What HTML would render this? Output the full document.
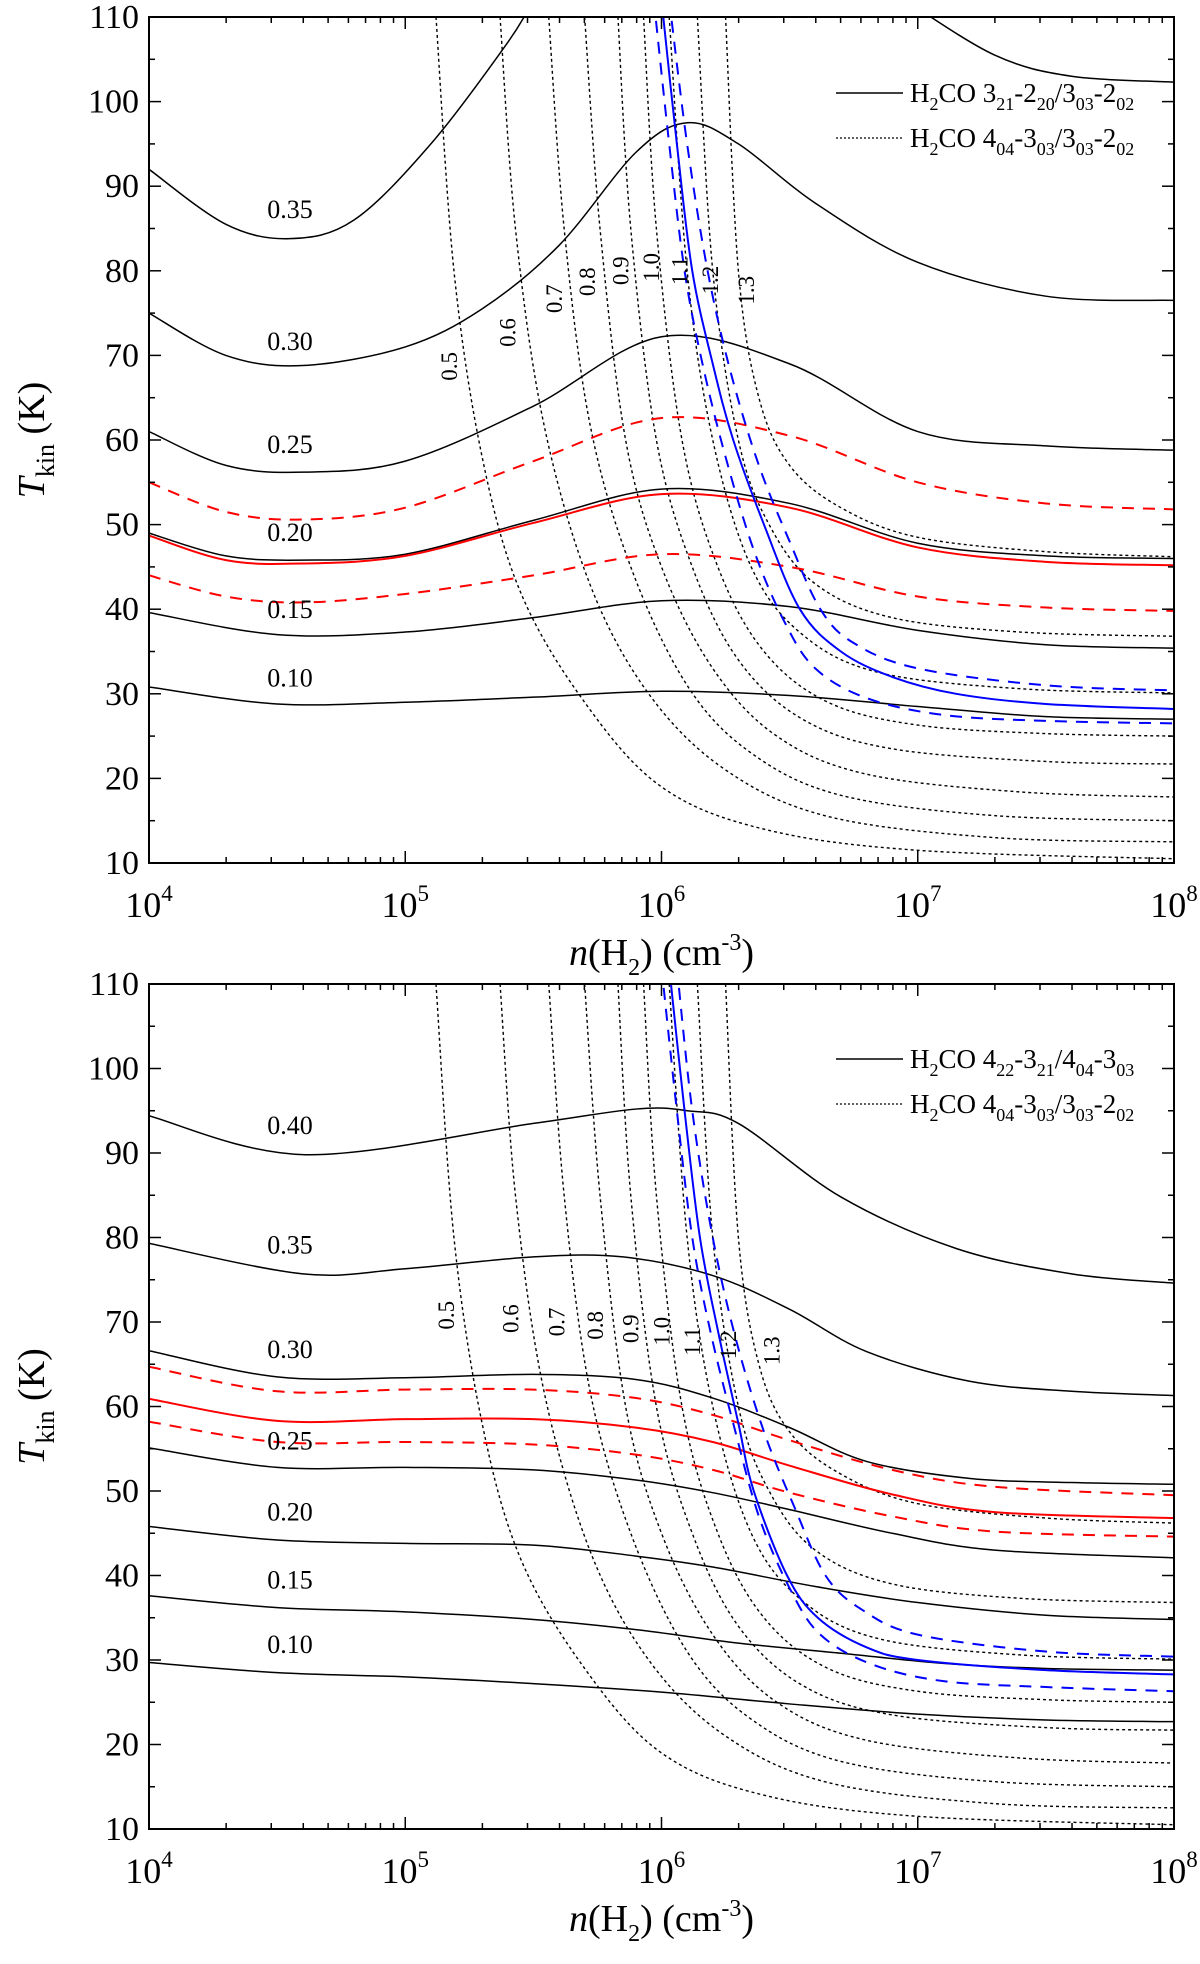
<!DOCTYPE html>
<html><head><meta charset="utf-8"><style>
html,body{margin:0;padding:0;background:#fff;}
svg{display:block;font-family:"Liberation Serif",serif;}
</style></head><body>
<svg id="chart" width="1200" height="1964" viewBox="0 0 1200 1964" xmlns="http://www.w3.org/2000/svg"></svg>
<script>
// ---- shared data: H2CO 404-303/303-202 ratio contours (dotted) ----
const dotLabels = ["0.5","0.6","0.7","0.8","0.9","1.0","1.1","1.2","1.3"];
const dotX = [
 [5.12,5.19,5.30,5.45,5.70,6.0,6.4,7.0,8],
 [5.37,5.43,5.54,5.72,5.95,6.25,6.65,7.3,8],
 [5.56,5.62,5.72,5.88,6.1,6.35,6.7,7.3,8],
 [5.70,5.76,5.86,6.0,6.2,6.45,6.8,7.4,8],
 [5.83,5.88,5.98,6.12,6.30,6.55,6.9,7.5,8],
 [5.93,5.98,6.08,6.22,6.40,6.65,7.0,7.5,8],
 [6.03,6.10,6.20,6.35,6.55,6.85,7.4,8],
 [6.14,6.20,6.30,6.42,6.6,6.9,7.4,8],
 [6.25,6.30,6.38,6.50,6.7,7.0,7.5,8]
];
const dotT = [
 [110,80,58,42,29,19,14,11.5,10.5],
 [110,85,62,43,30,21,15.5,13,12.5],
 [110,85,62,45,31,23,18,15.6,15],
 [110,85,60,45,33,25,20.5,18.4,17.8],
 [110,85,60,45,34,27,23.5,22,21.7],
 [110,85,60,45,35,29,26.3,25.3,25],
 [110,80,60,45,37,32.5,30.6,30.1],
 [110,80,60,50,43,39,37.3,36.8],
 [110,80,65,57,52,48.5,46.8,46.2]
];
const dotLabelTopX = [5.17,5.40,5.58,5.71,5.84,5.96,6.07,6.19,6.33];
const dotLabelTopT = [68.7,72.7,76.7,78.7,80,80.4,80,78.9,77.7];
const dotLabelBotX = [5.16,5.41,5.59,5.74,5.88,6.0,6.12,6.26,6.43];
const dotLabelBotT = [70.8,70.4,70,69.6,69.2,68.9,67.7,67.3,66.6];

// ---- top panel: H2CO 321-220/303-202 ----
const topLabels = ["0.10","0.15","0.20","0.25","0.30","0.35"];
const topX = [
 [4,4.5,5,5.5,6,6.5,7,7.5,8],
 [4,4.5,5,5.5,6,6.5,7,7.5,8],
 [4,4.3,4.6,5,5.5,6,6.5,7,7.5,8],
 [4,4.3,4.6,5,5.5,6,6.5,7,7.5,8],
 [4,4.3,4.6,5,5.3,5.6,5.9,6.1,6.3,6.6,7,7.5,8],
 [4,4.3,4.55,4.8,5.1,5.4,5.5]
];
const topT = [
 [30.8,28.8,29,29.6,30.3,29.8,28.5,27.3,27],
 [39.6,37,37.3,39,41,40.3,37.5,35.8,35.4],
 [49,46.3,45.8,46.5,50.5,54.2,52.5,47.8,46.3,46],
 [61,57,56.2,57.5,64,72.2,69,61,59.3,58.8],
 [75,70,68.8,71,75.5,83,94,97.5,95,88,81,77,76.5],
 [92,85.5,83.8,86,95,107,112]
];
const top35bX = [6.95,7.3,7.6,8];
const top35bT = [112,105.5,103,102.3];
const topLabelX = [4.55,4.55,4.55,4.55,4.55,4.55];
const topLabelT = [31.9,40,49.1,59.5,71.7,87.3];
const topRedX = [4,4.3,4.6,5,5.5,6,6.5,7,7.5,8];
const topRedT = [48.7,45.8,45.4,46.3,50.2,53.6,52,47.3,45.6,45.2];
const topRedHiT = [55,51.5,50.6,52,57.5,62.6,60.5,55,52.5,51.8];
const topRedLoT = [44,41.5,40.8,41.8,44,46.5,45,41.5,40.2,39.8];
const topBlueX = [6.0,6.06,6.12,6.2,6.28,6.4,6.54,6.7,6.9,7.15,7.5,8];
const topBlueT = [112,95,80,69,60,50,40,35,32,30,28.8,28.2];
const topBlueHiX = [6.03,6.1,6.18,6.27,6.38,6.5,6.62,6.75,7,7.5,8];
const topBlueHiT = [112,95,80,68,57,48,40,36,33,31,30.4];
const topBlueLoX = [5.97,6.03,6.09,6.16,6.25,6.36,6.48,6.6,6.8,7.1,7.5,8];
const topBlueLoT = [112,95,80,69,58,47,38.5,33,29.5,27.5,26.8,26.5];

// ---- bottom panel: H2CO 422-321/404-303 ----
const botLabels = ["0.10","0.15","0.20","0.25","0.30","0.35","0.40"];
const botX = [
 [4,4.5,5,5.5,6,6.5,7,7.5,8],
 [4,4.5,5,5.5,5.9,6.3,6.7,7.1,7.5,8],
 [4,4.5,5,5.5,5.9,6.2,6.6,7,7.5,8],
 [4,4.5,5,5.5,5.9,6.2,6.5,6.9,7.3,8],
 [4,4.5,5,5.5,5.9,6.2,6.5,6.8,7.2,7.6,8],
 [4,4.6,5,5.5,5.85,6.2,6.5,6.8,7.2,7.6,8],
 [4,4.61,5.5,5.9,6.1,6.3,6.7,7.15,7.6,8]
];
const botT = [
 [29.7,28.5,28,27.2,26.2,24.8,23.6,22.9,22.7],
 [37.6,36.2,35.7,34.8,33.6,32,30.8,29.6,29,28.8],
 [45.8,44.2,43.8,43.6,42.3,41,38.7,36.8,35.3,34.8],
 [55.1,52.8,52.8,52.5,51.3,49.8,47.8,45,43,42.1],
 [66.6,63.5,63.4,63.8,63.2,61,57.5,53.5,51.5,51,50.8],
 [79.3,75.7,76.3,77.7,77.7,75.5,71.5,66.5,63,61.8,61.3],
 [94.4,89.8,93.5,95.2,95,93.5,84.8,78.7,75.7,74.6]
];
const botLabelX = [4.55,4.55,4.55,4.55,4.55,4.55,4.55];
const botLabelT = [31.9,39.5,47.6,56,66.8,79.2,93.3];
const botRedX = [4,4.5,5,5.5,5.9,6.2,6.5,6.9,7.3,8];
const botRedT = [60.9,58.3,58.5,58.5,57.5,55.8,53,49.6,47.5,46.8];
const botRedHiT = [64.7,61.8,62,62,61,59,56,52.5,50.5,49.5];
const botRedLoT = [58.2,55.8,55.8,55.5,54.3,52.5,49.8,47,45.2,44.6];
const botBlueX = [6.03,6.09,6.15,6.22,6.3,6.36,6.49,6.61,6.8,7.0,7.5,8];
const botBlueT = [112,95,80,69,58,50,40,35,31.5,30,28.8,28.3];
const botBlueHiX = [6.06,6.12,6.2,6.29,6.4,6.52,6.64,6.78,7.0,7.5,8];
const botBlueHiT = [112,95,80,68,57,48,40,36,33,31,30.4];
const botBlueLoX = [6.0,6.06,6.12,6.19,6.28,6.38,6.5,6.62,6.82,7.1,7.5,8];
const botBlueLoT = [112,95,80,69,58,47,38.5,33,29.5,27.5,26.8,26.3];

const yTicks = [10,20,30,40,50,60,70,80,90,100,110];
const xTickExp = [4,5,6,7,8];

const NS = "http://www.w3.org/2000/svg";
const svg = document.getElementById("chart");
function mk(tag, attrs, parent){
  const e = document.createElementNS(NS, tag);
  for (const k in attrs) e.setAttribute(k, attrs[k]);
  (parent||svg).appendChild(e);
  return e;
}
function pathD(pts){
  if (pts.length < 2) return "";
  let d = "M" + pts[0][0].toFixed(2) + "," + pts[0][1].toFixed(2);
  for (let i=0;i<pts.length-1;i++){
    const p0 = pts[i-1]||pts[i], p1=pts[i], p2=pts[i+1], p3=pts[i+2]||pts[i+1];
    const c1x = p1[0]+(p2[0]-p0[0])/6, c1y = p1[1]+(p2[1]-p0[1])/6;
    const c2x = p2[0]-(p3[0]-p1[0])/6, c2y = p2[1]-(p3[1]-p1[1])/6;
    d += " C"+c1x.toFixed(2)+","+c1y.toFixed(2)+" "+c2x.toFixed(2)+","+c2y.toFixed(2)+" "+p2[0].toFixed(2)+","+p2[1].toFixed(2);
  }
  return d;
}

function panel(id, top, bottom, cfg){
  const L = 149, R = 1174;
  const sx = v => L + (v-4)/4*(R-L);
  const sy = t => bottom - (t-10)/100*(bottom-top);
  const g = mk("g", {});
  
  
  const clipId = id+"-clip";
  const defs = mk("defs", {}, g);
  const cp = mk("clipPath", {id:clipId}, defs);
  mk("rect", {x:L, y:top, width:R-L, height:bottom-top}, cp);
  const cg = mk("g", {"clip-path":"url(#"+clipId+")"}, g);
  
  

  function curve(xs, ts, style, name){
    const pts = xs.map((x,i)=>[sx(x), sy(ts[i])]);
    const p = mk("path", Object.assign({d:pathD(pts), fill:"none"}, style), cg);
    
    
  }
  dotX.forEach((xs,i)=>curve(xs, dotT[i], {stroke:"#000","stroke-width":1.4,"stroke-dasharray":"3,3"}, "dotted-contour-"+dotLabels[i]));
  cfg.bx.forEach((xs,i)=>curve(xs, cfg.bt[i], {stroke:"#000","stroke-width":1.5}, "solid-contour-"+cfg.bl[i]));
  if (cfg.extraX) curve(cfg.extraX, cfg.extraT, {stroke:"#000","stroke-width":1.5}, "solid-contour-0.35-right");
  curve(cfg.rx, cfg.rt, {stroke:"#ff0000","stroke-width":2}, "red-measured-ratio");
  curve(cfg.rx, cfg.rhi, {stroke:"#ff0000","stroke-width":2,"stroke-dasharray":"12,9"}, "red-upper-error");
  curve(cfg.rx, cfg.rlo, {stroke:"#ff0000","stroke-width":2,"stroke-dasharray":"12,9"}, "red-lower-error");
  curve(cfg.ux, cfg.ut, {stroke:"#0000ff","stroke-width":2}, "blue-measured-ratio");
  curve(cfg.uhx, cfg.uht, {stroke:"#0000ff","stroke-width":2,"stroke-dasharray":"12,9"}, "blue-upper-error");
  curve(cfg.ulx, cfg.ult, {stroke:"#0000ff","stroke-width":2,"stroke-dasharray":"12,9"}, "blue-lower-error");

  cfg.bl.forEach((lab,i)=>{
    const t = mk("text", {x:sx(cfg.lx[i]), y:sy(cfg.lt[i])+9, "font-size":26, "text-anchor":"middle", fill:"#000"}, g);
    t.textContent = lab;
    
    
  });
  dotLabels.forEach((lab,i)=>{
    const x = sx(cfg.dlx[i]), y = sy(cfg.dlt[i]);
    const t = mk("text", {x:x, y:y, "font-size":23, "text-anchor":"middle", fill:"#000", transform:"rotate(-90 "+x+" "+y+") translate(0 8)"}, g);
    t.textContent = lab;
    
    
  });

  const fr = mk("rect", {x:L, y:top, width:R-L, height:bottom-top, fill:"none", stroke:"#000", "stroke-width":2}, g);
  
  
  for (let v=10; v<=110; v+=5){
    const major = v%10===0, len = major?12:6, y = sy(v);
    mk("line", {x1:L, x2:L+len, y1:y, y2:y, stroke:"#000","stroke-width":1.5}, g);
    mk("line", {x1:R, x2:R-len, y1:y, y2:y, stroke:"#000","stroke-width":1.5}, g);
  }
  yTicks.forEach(v=>{
    const t = mk("text", {x:L-10, y:sy(v)+11, "font-size":34, "text-anchor":"end", fill:"#000"}, g);
    t.textContent = v;
    
    
  });
  for (let e=4; e<8; e++){
    for (let m=1; m<10; m++){
      const x = sx(e+Math.log10(m)), len = m===1?12:6;
      mk("line", {x1:x, x2:x, y1:bottom, y2:bottom-len, stroke:"#000","stroke-width":1.5}, g);
      mk("line", {x1:x, x2:x, y1:top, y2:top+len, stroke:"#000","stroke-width":1.5}, g);
    }
  }
  xTickExp.forEach(e=>{
    const t = mk("text", {x:sx(e), y:bottom+54, "font-size":36, "text-anchor":"middle", fill:"#000"}, g);
    
    
    const a = mk("tspan", {}, t); a.textContent = "10";
    const b = mk("tspan", {dy:-16, "font-size":23}, t); b.textContent = e;
  });
  const yt = mk("text", {x:0, y:0, "font-size":38, "text-anchor":"middle", fill:"#000", transform:"translate(44 "+((top+bottom)/2)+") rotate(-90)"}, g);
  
  
  mk("tspan", {"font-style":"italic"}, yt).textContent = "T";
  mk("tspan", {dy:10, "font-size":26}, yt).textContent = "kin";
  mk("tspan", {dy:-10}, yt).textContent = " (K)";
  const xt = mk("text", {x:(L+R)/2, y:bottom+102, "font-size":38, "text-anchor":"middle", fill:"#000"}, g);
  
  
  mk("tspan", {"font-style":"italic"}, xt).textContent = "n";
  mk("tspan", {}, xt).textContent = "(H";
  mk("tspan", {dy:10, "font-size":24}, xt).textContent = "2";
  mk("tspan", {dy:-10}, xt).textContent = ") (cm";
  mk("tspan", {dy:-15, "font-size":24}, xt).textContent = "-3";
  mk("tspan", {dy:15}, xt).textContent = ")";

  cfg.legend.forEach((parts,i)=>{
    const y = cfg.legY + i*45;
    const ln = mk("line", {x1:836, x2:903, y1:y, y2:y, stroke:"#000","stroke-width":i===0?1.5:1.2, "stroke-dasharray": i===0?"none":"2,2"}, g);
    
    
    const t = mk("text", {x:910, y:y+9, "font-size":27, fill:"#000"}, g);
    
    
    parts.forEach(p=>{
      let attrs = {};
      if (p[1]==="s") attrs = {dy:8, "font-size":18};
      else if (p[1]==="u") attrs = {dy:-8, "font-size":27};
      const ts = mk("tspan", attrs, t);
      ts.textContent = p[0];
    });
  });
}
function chem(a,b,c,d,e,f,g,h){
  return [["H"],["2","s"],["CO "+a,"u"],[b,"s"],["-"+c,"u"],[d,"s"],["/"+e,"u"],[f,"s"],["-"+g,"u"],[h,"s"]];
}
panel("top-chart", 17, 863, {
  bx: topX, bt: topT, bl: topLabels, extraX: top35bX, extraT: top35bT,
  lx: topLabelX, lt: topLabelT,
  rx: topRedX, rt: topRedT, rhi: topRedHiT, rlo: topRedLoT,
  ux: topBlueX, ut: topBlueT, uhx: topBlueHiX, uht: topBlueHiT, ulx: topBlueLoX, ult: topBlueLoT,
  dlx: dotLabelTopX, dlt: dotLabelTopT, legY: 93,
  legend: [chem("3","21","2","20","3","03","2","02"), chem("4","04","3","03","3","03","2","02")]
});
panel("bottom-chart", 984, 1829, {
  bx: botX, bt: botT, bl: botLabels,
  lx: botLabelX, lt: botLabelT,
  rx: botRedX, rt: botRedT, rhi: botRedHiT, rlo: botRedLoT,
  ux: botBlueX, ut: botBlueT, uhx: botBlueHiX, uht: botBlueHiT, ulx: botBlueLoX, ult: botBlueLoT,
  dlx: dotLabelBotX, dlt: dotLabelBotT, legY: 1059,
  legend: [chem("4","22","3","21","4","04","3","03"), chem("4","04","3","03","3","03","2","02")]
});
</script>
</body></html>
